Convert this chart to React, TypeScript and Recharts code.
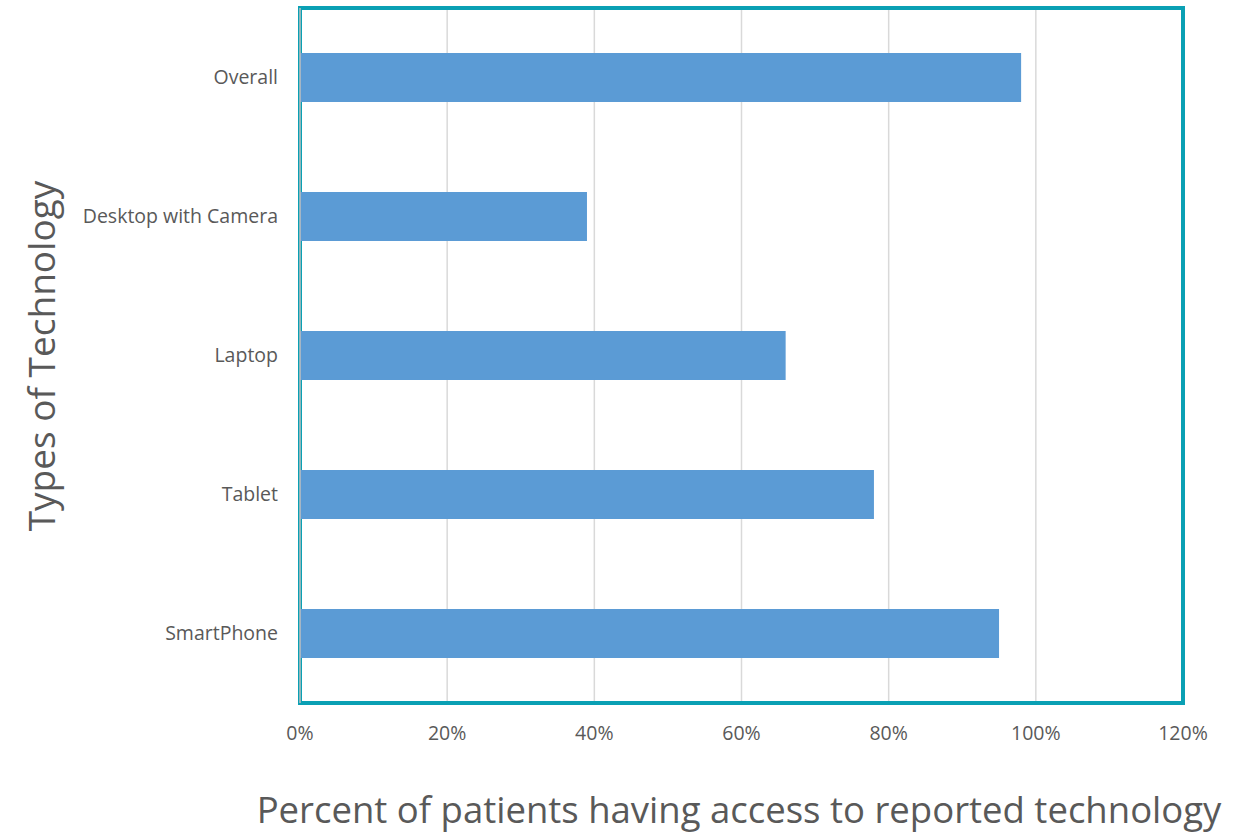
import { BarChart, Bar, XAxis, YAxis, CartesianGrid, ReferenceArea } from "recharts";

const categories = ["Overall", "Desktop with Camera", "Laptop", "Tablet", "SmartPhone"];
const access = [0.98, 0.39, 0.66, 0.78, 0.95];
const xTicks = [0, 0.2, 0.4, 0.6, 0.8, 1.0, 1.2];

const data = categories.map((name, i) => ({ name, value: access[i] }));

const font = "'Open Sans', 'Noto Sans', sans-serif";

export default function App() {
    return (
        <div style={{ position: "absolute", left: 0, top: 0, width: 1251, height: 834, background: "#fff", fontFamily: font }}>
            <BarChart
                width={1251}
                height={834}
                data={data}
                layout="vertical"
                margin={{ top: 8, right: 68, bottom: 101, left: 0 }}
                barCategoryGap="32%"
            >
                <CartesianGrid horizontal={false} stroke="#d9d9d9" strokeWidth={1.5} />
                <XAxis
                    type="number"
                    domain={[0, 1.2]}
                    ticks={xTicks}
                    tickFormatter={(v: number) => `${Math.round(v * 100)}%`}
                    axisLine={false}
                    tickLine={false}
                    tick={{ fill: "#595959", fontSize: 19.5, fontFamily: font }}
                    tickMargin={17}
                    height={30}
                />
                <YAxis
                    type="category"
                    dataKey="name"
                    width={300}
                    axisLine={{ stroke: "#bfbfbf", strokeWidth: 1.5 }}
                    tickLine={false}
                    tick={{ fill: "#595959", fontSize: 19.5, fontFamily: font }}
                    tickMargin={16}
                />
                <Bar dataKey="value" fill="#5b9bd5" barSize={49} isAnimationActive={false} />
                <ReferenceArea x1={0} x2={1.2} fill="none" stroke="#0aa0b4" strokeWidth={4} ifOverflow="visible" />
            </BarChart>
            <div
                style={{
                    position: "absolute",
                    left: 40,
                    top: 356,
                    transform: "translate(-50%, -50%) rotate(-90deg)",
                    whiteSpace: "nowrap",
                    fontSize: 37,
                    lineHeight: 1,
                    color: "#595959",
                }}
            >
                Types of Technology
            </div>
            <div
                style={{
                    position: "absolute",
                    left: 739,
                    top: 809,
                    transform: "translate(-50%, -50%)",
                    whiteSpace: "nowrap",
                    fontSize: 36.5,
                    lineHeight: 1,
                    color: "#595959",
                }}
            >
                Percent of patients having access to reported technology
            </div>
        </div>
    );
}
